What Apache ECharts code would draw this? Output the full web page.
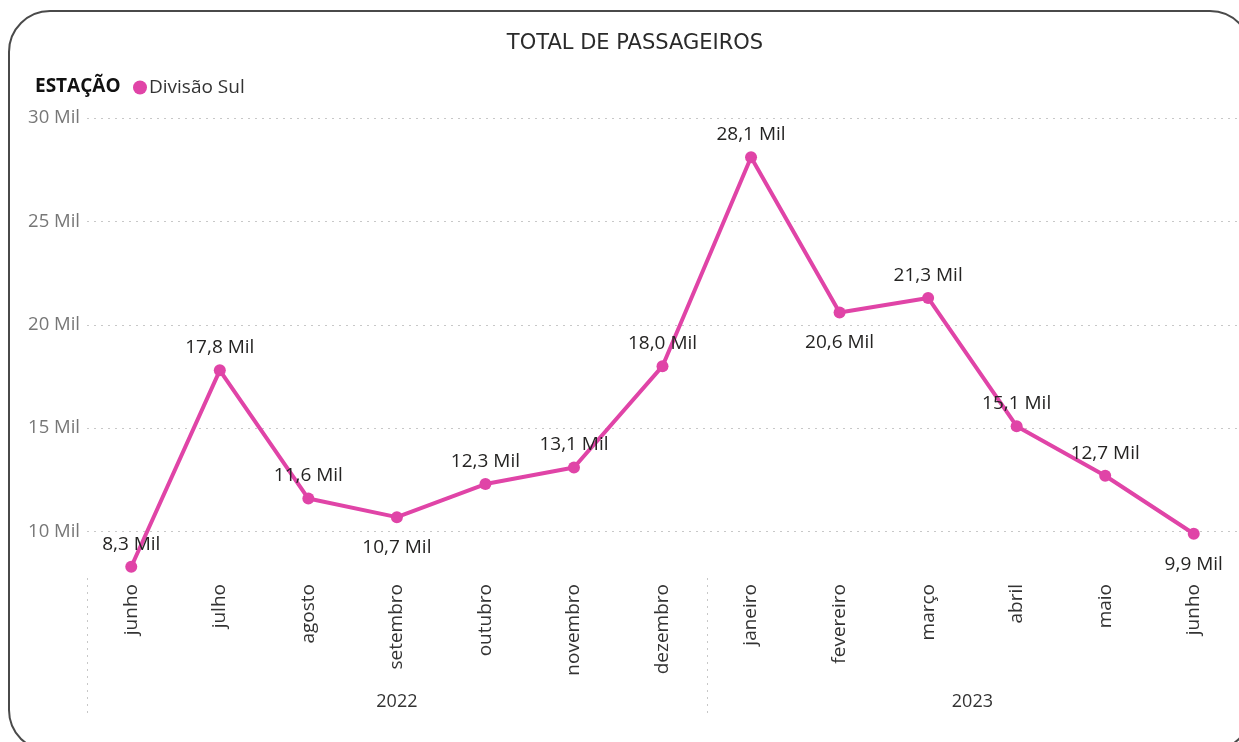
<!DOCTYPE html>
<html>
<head>
<meta charset="utf-8">
<script src="https://cdn.jsdelivr.net/npm/echarts@6/dist/echarts.min.js"></script>
<style>
  html, body { margin: 0; padding: 0; background: #fff; }
  #card {
    position: absolute; left: 8px; top: 10px; width: 1240px; height: 738px;
    border: 2px solid #4a4a4a; border-radius: 42px; box-sizing: content-box;
  }
  #chart { position: absolute; left: 0; top: 0; width: 1239px; height: 742px; }
</style>
</head>
<body>
<div id="card"></div>
<div id="chart"></div>
<script>
  // dados do gráfico
  var months = ['junho', 'julho', 'agosto', 'setembro', 'outubro', 'novembro', 'dezembro',
                'janeiro', 'fevereiro', 'março', 'abril', 'maio', 'junho'];
  var passengers = [8.3, 17.8, 11.6, 10.7, 12.3, 13.1, 18.0, 28.1, 20.6, 21.3, 15.1, 12.7, 9.9];
  var labelBelow = [false, false, false, true, false, false, false, false, true, false, false, false, true];
  var years = ['2022', '2023'];
  var monthsPerYear = [7, 6];

  var font = "'Segoe UI', 'Open Sans', sans-serif";
  var pink = '#E044A7';

  // eixo dos anos em meias-faixas: separadores nas bordas, rótulo no centro
  var yearSlots = [], yearBorders = [], yearCenters = [];
  var pos = 0;
  years.forEach(function (y, i) {
    yearBorders.push(pos);
    yearCenters.push(pos + monthsPerYear[i]);
    pos += monthsPerYear[i] * 2;
  });
  for (var k = 0; k <= pos; k++) {
    var idx = yearCenters.indexOf(k);
    yearSlots.push(idx >= 0 ? years[idx] : 's' + k);
  }

  var seriesData = passengers.map(function (v, i) {
    return {
      value: v,
      label: labelBelow[i] ? { position: 'bottom', distance: 15 } : { position: 'top', distance: 7 }
    };
  });

  var myChart = echarts.init(document.getElementById('chart'));
  myChart.setOption({
    animation: false,
    title: [
      {
        text: 'TOTAL DE PASSAGEIROS',
        left: 630, top: 28, textAlign: 'center',
        textStyle: { fontFamily: 'DejaVu Sans', fontSize: 21, fontWeight: 'normal', color: '#2a2a2a' }
      },
      {
        text: 'ESTAÇÃO',
        left: 30, top: 72,
        textStyle: { fontFamily: font, fontSize: 19, fontWeight: 'bold', color: '#111' }
      }
    ],
    legend: {
      left: 128, top: 73,
      icon: 'circle', itemWidth: 14, itemHeight: 14, itemGap: 4,
      textStyle: { fontFamily: font, fontSize: 19, color: '#333', padding: [0, 0, 0, -3] },
      data: ['Divisão Sul']
    },
    grid: { left: 87, right: 1, top: 118, bottom: 169, containLabel: false },
    xAxis: [
      {
        type: 'category',
        data: months,
        boundaryGap: true,
        axisLine: { show: false },
        axisTick: { show: false },
        axisLabel: {
          rotate: 90, margin: 11, interval: 0,
          fontFamily: font, fontSize: 19, color: '#333'
        }
      },
      {
        type: 'category',
        data: yearSlots,
        boundaryGap: false,
        position: 'bottom',
        offset: 5,
        axisLine: { show: false },
        axisTick: {
          show: true, inside: false, length: 140,
          interval: function (index) { return yearBorders.indexOf(index) >= 0; },
          lineStyle: { color: '#c8c8c8', type: [2, 5], width: 1 }
        },
        axisLabel: {
          margin: 115,
          interval: function (index) { return yearCenters.indexOf(index) >= 0; },
          formatter: function (v) { return years.indexOf(v) >= 0 ? v : ''; },
          fontFamily: font, fontSize: 18, color: '#333'
        }
      }
    ],
    yAxis: {
      type: 'value',
      min: 8, max: 30,
      splitNumber: 5,
      axisLine: { show: false },
      axisTick: { show: false },
      axisLabel: {
        showMinLabel: false, margin: 7,
        formatter: function (v) { return v + ' Mil'; },
        fontFamily: font, fontSize: 18.5, color: '#777'
      },
      splitLine: {
        showMinLine: false,
        lineStyle: { color: '#c8c8c8', type: [2, 5], width: 1 }
      }
    },
    series: [
      {
        name: 'Divisão Sul',
        type: 'line',
        data: seriesData,
        xAxisIndex: 0,
        symbol: 'circle',
        symbolSize: 12,
        itemStyle: { color: pink },
        lineStyle: { color: pink, width: 4 },
        label: {
          show: true,
          fontFamily: font, fontSize: 19, color: '#252423',
          formatter: function (p) { return p.value.toFixed(1).replace('.', ',') + ' Mil'; }
        }
      }
    ]
  });
</script>
</body>
</html>
